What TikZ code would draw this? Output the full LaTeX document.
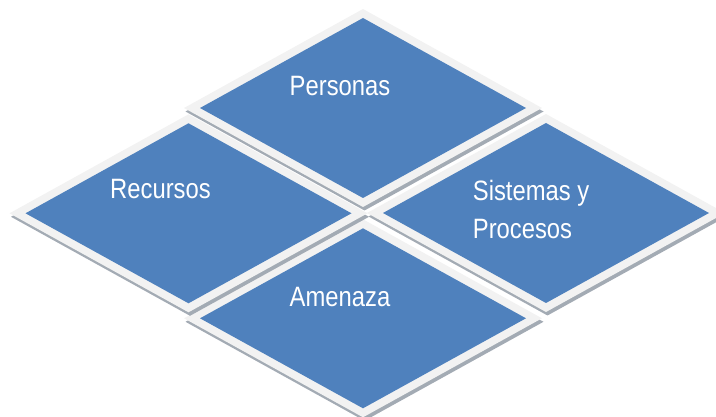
\documentclass[tikz,border=0pt]{standalone}
\usepackage{fontspec}
\setmainfont{Liberation Sans}[FakeStretch=0.85]
\definecolor{tileblue}{HTML}{4F81BD}
\definecolor{tileframe}{HTML}{F2F2F2}
\definecolor{tileshadow}{HTML}{A3ABB4}
\newcommand{\tilediamond}[3]{%
  \coordinate (#1) at (#2,#3);
  \begin{scope}[shift={(#2,#3)}]
    \fill[tileshadow] (-177.5,3.5) -- (1.5,-95.5) -- (180.5,3.5) -- (1.5,102.5) -- cycle;
    \fill[tileframe] (-179,0) -- (0,-99) -- (179,0) -- (0,99) -- cycle;
    \fill[tileblue] (-163,0) -- (0,-90) -- (163,0) -- (0,90) -- cycle;
  \end{scope}}
\begin{document}
\begin{tikzpicture}[x=1pt,y=-1pt,
  lbl/.style={text=white,font=\fontsize{28}{38}\selectfont,inner sep=0pt}]
\useasboundingbox (0,0) rectangle (716,417);
\tilediamond{amen}{363}{318.3}
\tilediamond{recu}{188.5}{213.3}
\tilediamond{sist}{546}{213}
\tilediamond{pers}{363}{108}
\node[lbl,anchor=base] (tP) at (340,96) {Personas};
\node[lbl,anchor=base] (tR) at (160.5,198.3) {Recursos};
\node[lbl,anchor=base] (tA) at (340,306) {Amenaza};
\node[lbl,align=left,anchor=base west] (tS) at (472.7,238.3) {Sistemas y\\Procesos};
\end{tikzpicture}
\end{document}
